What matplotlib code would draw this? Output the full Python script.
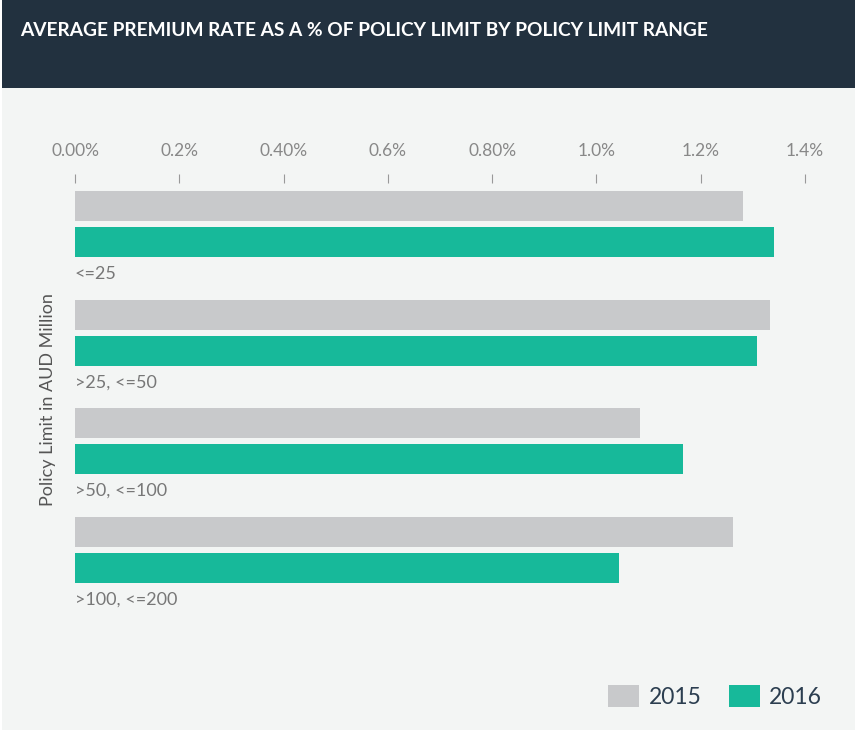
import matplotlib.pyplot as plt
from matplotlib.patches import Rectangle
import numpy as np

# datos
categorias = ['<=25', '>25, <=50', '>50, <=100', '>100, <=200']
valores_2015 = [1.281, 1.333, 1.084, 1.262]
valores_2016 = [1.341, 1.308, 1.166, 1.043]
ticks = [0.0, 0.2, 0.4, 0.6, 0.8, 1.0, 1.2, 1.4]
ticks_txt = ['0.00%', '0.2%', '0.40%', '0.6%', '0.80%', '1.0%', '1.2%', '1.4%']

gris = '#c8c9cb'
verde = '#17b99a'
fondo = '#f3f5f4'
azul = '#22313f'

W, H = 855, 732
fig = plt.figure(figsize=(W / 100, H / 100), dpi=100)
fig.patch.set_facecolor('white')

# Fondo y cabecera
fig.patches.append(Rectangle((2 / W, 2 / H), 1, 1 - 4 / H, transform=fig.transFigure,
                             facecolor=fondo, edgecolor='none', zorder=-2))
fig.patches.append(Rectangle((2 / W, 1 - 88 / H), 1, 88 / H, transform=fig.transFigure,
                             facecolor=azul, edgecolor='none', zorder=-1))
fig.text(20 / W, 1 - 30 / H, 'AVERAGE PREMIUM RATE AS A % OF POLICY LIMIT BY POLICY LIMIT RANGE',
         color='white', fontsize=13.8, fontweight='bold', family='Lato', va='center', ha='left')

# Ejes (en pixeles)
paso = 108.5
top_px, bot_px = 183, 610
ax = fig.add_axes([75 / W, 1 - bot_px / H, 730 / W, (bot_px - top_px) / H])
ax.set_zorder(1)
ax.set_facecolor('none')
ax.set_xlim(0, 1.4)
ax.set_ylim((bot_px - 191) / paso, (top_px - 191) / paso)

alto = 30 / paso
y = np.arange(len(categorias))
ax.barh(y + 15 / paso, valores_2015, height=alto, color=gris, label='2015')
ax.barh(y + 51 / paso, valores_2016, height=alto, color=verde, label='2016')

for i, c in enumerate(categorias):
    ax.text(0, i + 83 / paso, c, color='#777777', fontsize=13, family='Lato',
            va='center', ha='left')

ax.xaxis.tick_top()
ax.set_xticks(ticks)
ax.set_xticklabels(ticks_txt, family='Lato')
ax.tick_params(axis='x', length=6.5, width=0.8, color='#999999', labelcolor='#888888',
               labelsize=12.5, pad=11)
ax.set_yticks([])
for s in ax.spines.values():
    s.set_visible(False)

fig.text(48 / W, 1 - 400 / H, 'Policy Limit in AUD Million', rotation=90, color='#555555',
         fontsize=13, family='Lato', va='center', ha='center')

# Leyenda
ax.legend(loc='lower right', bbox_to_anchor=(822 / W, 1 - 708 / H), bbox_transform=fig.transFigure,
          ncol=2, frameon=False, prop={'family': 'Lato', 'size': 16.5},
          labelcolor='#2c3e50', handlelength=1.35, handleheight=1.13, handletextpad=0.4,
          columnspacing=1.2, borderaxespad=0, borderpad=0)

fig.savefig('out.png', dpi=100, facecolor=fig.get_facecolor())
